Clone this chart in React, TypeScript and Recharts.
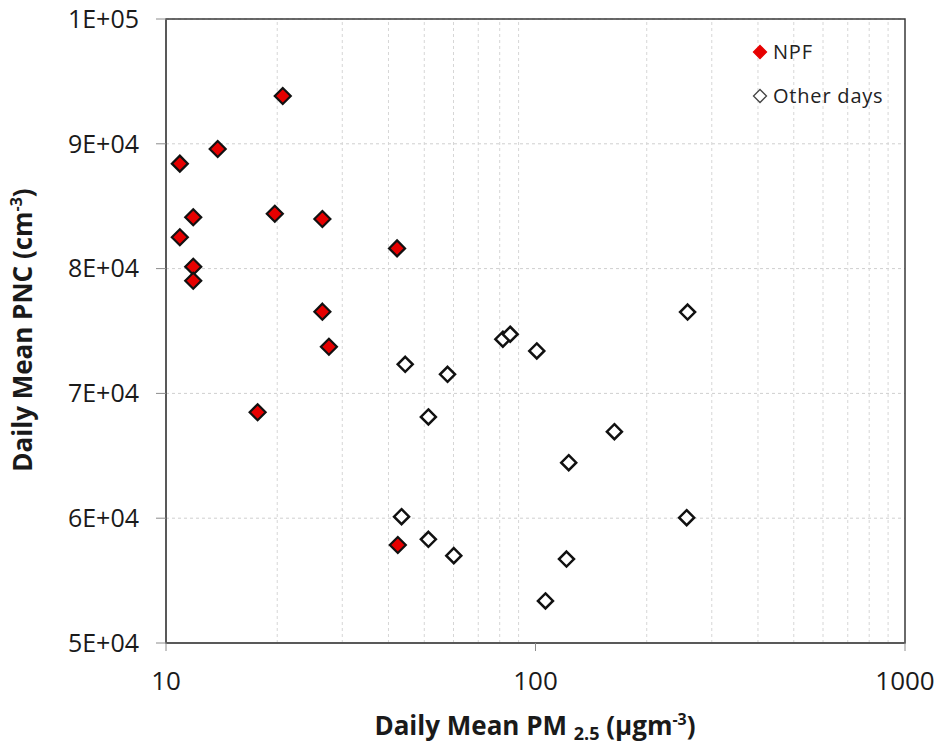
import React from 'react';
import { ScatterChart, Scatter, XAxis, YAxis, CartesianGrid, ReferenceLine, ReferenceArea } from 'recharts';

// PM2.5 (x) vs PNC (y)
const npfPm = [20.7, 13.8, 10.9, 11.85, 10.9, 19.7, 26.5, 42.2, 11.85, 11.85, 26.5, 27.6, 17.7, 42.4];
const npfPnc = [93830, 89580, 88410, 84110, 82510, 84400, 83970, 81620, 80150, 79030, 76550, 73740, 68490, 57850];

const otherPm = [258, 81.6, 85.4, 100.8, 44.4, 57.8, 51.3, 163.5, 123, 43.4, 256.5, 51.3, 60.1, 121.3, 106.4];
const otherPnc = [76520, 74340, 74740, 73400, 72330, 71530, 68110, 66930, 64450, 60120, 60040, 58310, 57000, 56730, 53370];

const xTicks = [10, 100, 1000];
const xMinor = [20, 30, 40, 50, 60, 70, 80, 90, 200, 300, 400, 500, 600, 700, 800, 900];
const yTicks = [50000, 60000, 70000, 80000, 90000, 100000];

const FONT = '"Open Sans", "Liberation Sans", sans-serif';
const RED = '#e60000';

const npfData = npfPm.map((x, i) => ({ x, y: npfPnc[i] }));
const otherData = otherPm.map((x, i) => ({ x, y: otherPnc[i] }));

function sciFormat(v: number) {
  const e = Math.floor(Math.log10(v) + 1e-9);
  const m = Math.round(v / Math.pow(10, e));
  return `${m}E+${String(e).padStart(2, '0')}`;
}

const diamond = (fill: string, r: number, sw: number) => (props: any) => {
  const { cx, cy } = props;
  if (cx == null || cy == null) return <g />;
  return (
    <path
      d={`M${cx},${cy - r} L${cx + r},${cy} L${cx},${cy + r} L${cx - r},${cy} Z`}
      fill={fill}
      stroke="#111"
      strokeWidth={sw}
      strokeLinejoin="miter"
    />
  );
};

const XTitle = () => (
  <text x={535} y={735} textAnchor="middle" fontFamily={FONT} fontWeight={700} fontSize={26} fill="#1a1a1a">
    Daily Mean PM <tspan fontSize={18} dy={5}>2.5</tspan>
    <tspan dy={-5}> (µgm</tspan>
    <tspan fontSize={16} dy={-10}>-3</tspan>
    <tspan dy={10}>)</tspan>
  </text>
);

const YTitle = () => (
  <text transform="translate(24,330) rotate(-90)" x={0} y={0} dy={8} textAnchor="middle" fontFamily={FONT} fontWeight={700} fontSize={26} fill="#1a1a1a">
    Daily Mean PNC (cm<tspan fontSize={16} dy={-10}>-3</tspan>
    <tspan dy={10}>)</tspan>
  </text>
);

function LegendBox() {
  const item = (fill: string, label: string, top: number) => (
    <div style={{ position: 'absolute', left: 0, top, display: 'flex', alignItems: 'center', whiteSpace: 'nowrap' }}>
      <svg width={16} height={16} style={{ marginRight: 5 }}>
        <path d="M8,1.5 L14.5,8 L8,14.5 L1.5,8 Z" fill={fill} stroke={fill === RED ? RED : '#444'} strokeWidth={1.3} />
      </svg>
      <span style={{ fontFamily: FONT, fontSize: 20, letterSpacing: 0.8, color: '#222' }}>{label}</span>
    </div>
  );
  return (
    <div style={{ position: 'absolute', left: 752, top: 38, width: 150, height: 80 }}>
      {item(RED, 'NPF', 0)}
      {item('#fff', 'Other days', 44)}
    </div>
  );
}

export default function App() {
  return (
    <div style={{ position: 'absolute', left: 0, top: 0, width: 938, height: 754, background: '#fff' }}>
      <ScatterChart width={938} height={754} margin={{ top: 19, right: 33, left: 0, bottom: 0 }}>
        <CartesianGrid vertical={false} stroke="#cfcfcf" strokeDasharray="3 3" />
        {xMinor.map(v => (
          <ReferenceLine key={v} x={v} stroke="#d6d6d6" strokeDasharray="3 3" />
        ))}
        <ReferenceArea x1={10} x2={1000} y1={50000} y2={100000} fill="none" stroke="#3a3a3a" strokeWidth={1.5} />
        <XAxis
          type="number"
          dataKey="x"
          scale="log"
          domain={[10, 1000]}
          allowDataOverflow
          ticks={xTicks}
          height={111}
          tickSize={8}
          tickMargin={21}
          axisLine={{ stroke: '#595959', strokeWidth: 2 }}
          tickLine={{ stroke: '#8c8c8c' }}
          tick={{ fontFamily: FONT, fontSize: 26, fill: '#1a1a1a' }}
        />
        <YAxis
          type="number"
          dataKey="y"
          domain={[50000, 100000]}
          ticks={yTicks}
          width={166}
          tickSize={10}
          tickMargin={17}
          tickFormatter={sciFormat}
          axisLine={{ stroke: '#595959', strokeWidth: 2 }}
          tickLine={{ stroke: '#8c8c8c' }}
          tick={{ fontFamily: FONT, fontSize: 25, fill: '#1a1a1a' }}
        />
        <Scatter data={otherData} shape={diamond('#fff', 7.5, 2.5)} isAnimationActive={false} />
        <Scatter data={npfData} shape={diamond(RED, 8, 2.2)} isAnimationActive={false} />
        <XTitle />
        <YTitle />
      </ScatterChart>
      <LegendBox />
    </div>
  );
}
